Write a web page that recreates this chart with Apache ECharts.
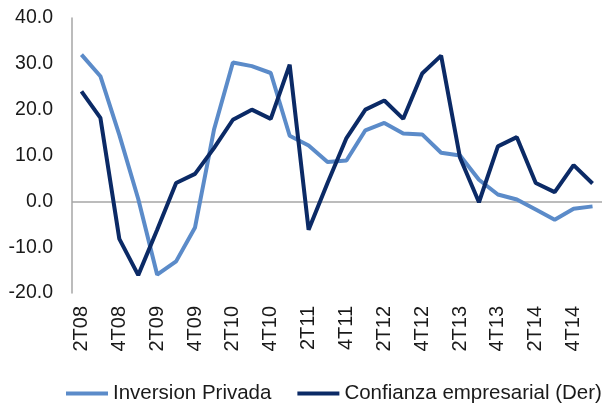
<!DOCTYPE html>
<html>
<head>
<meta charset="utf-8">
<script src="https://cdn.jsdelivr.net/npm/echarts@6/dist/echarts.min.js"></script>
<style>
html,body{margin:0;padding:0;background:#fff;}
#c{width:602px;height:404px;}
</style>
</head>
<body>
<div id="c"></div>
<script>
var categories = ['2T08','3T08','4T08','1T09','2T09','3T09','4T09','1T10','2T10','3T10','4T10','1T11','2T11','3T11','4T11','1T12','2T12','3T12','4T12','1T13','2T13','3T13','4T13','1T14','2T14','3T14','4T14','1T15'];
var inversionPrivada = [32.0,27.3,14.5,0.5,-16.0,-13.1,-5.7,15.6,30.3,29.5,28.0,14.3,12.2,8.6,8.9,15.5,17.1,14.8,14.6,10.6,10.0,4.7,1.5,0.4,-1.8,-4.0,-1.6,-1.1];
var confianzaEmpresarial = [24.0,18.2,-8.2,-16.1,-6.2,4.0,6.0,11.6,17.8,20.0,18.0,29.8,-6.2,4.0,13.8,20.0,22.0,18.0,27.9,31.8,9.5,-0.2,12.0,14.0,4.0,2.0,7.9,3.9];
var seriesNames = ['Inversion Privada','Confianza empresarial (Der)'];

var chart = echarts.init(document.getElementById('c'), null, {renderer:'canvas'});
var font = 'Liberation Sans, Arial, sans-serif';
chart.setOption({
  animation:false,
  backgroundColor:'#fff',
  grid:{left:72, right:-8, top:18, bottom:111, containLabel:false},
  legend:{
    left:66, top:383, padding:0, itemWidth:42, itemHeight:4, itemGap:26, icon:'rect',
    textStyle:{fontFamily:font, fontSize:20.5, color:'#1a1a1a', padding:[0,0,0,0]},
    data:seriesNames
  },
  xAxis:{
    type:'category', data:categories, boundaryGap:true,
    axisLine:{show:false}, axisTick:{show:false},
    axisLabel:{rotate:90, interval:1, margin:13, fontFamily:font, fontSize:20, color:'#1a1a1a'}
  },
  yAxis:{
    type:'value', min:-20, max:40, interval:10,
    axisLine:{show:true, lineStyle:{color:'#a6a6a6', width:1.5}},
    axisTick:{show:false}, splitLine:{show:false},
    axisLabel:{margin:19, fontFamily:font, fontSize:19.5, color:'#1a1a1a', formatter:function(v){return v.toFixed(1);}}
  },
  series:[
    {name:seriesNames[0], type:'line', data:inversionPrivada, symbol:'none', z:3,
     lineStyle:{color:'#5b8bc9', width:4}, itemStyle:{color:'#5b8bc9'},
     markLine:{silent:true, symbol:'none', label:{show:false}, lineStyle:{color:'#a6a6a6', width:1.5, type:'solid'}, data:[{yAxis:0}], z:1}},
    {name:seriesNames[1], type:'line', data:confianzaEmpresarial, symbol:'none', z:4,
     lineStyle:{color:'#0b2a66', width:4}, itemStyle:{color:'#0b2a66'}}
  ]
});
</script>
</body>
</html>
